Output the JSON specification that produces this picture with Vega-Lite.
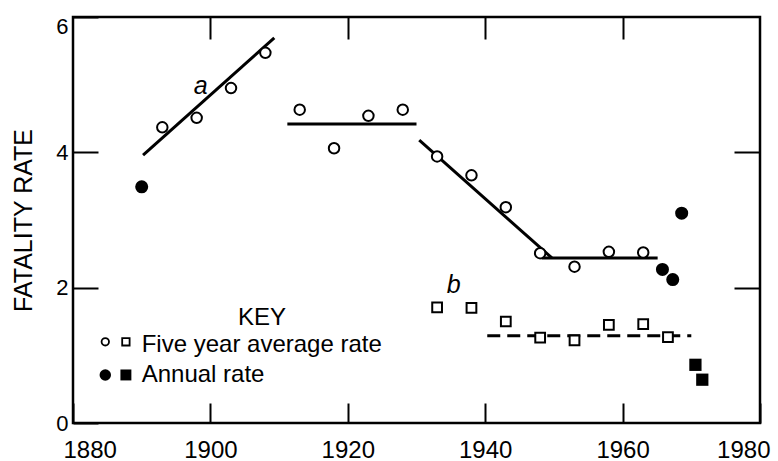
{
  "$schema": "https://vega.github.io/schema/vega-lite/v6.json",
  "width": 687,
  "height": 406,
  "autosize": {"type": "none"},
  "padding": {"left": 73, "top": 17, "right": 18, "bottom": 38},
  "background": "white",
  "config": {
    "view": {"stroke": "black", "strokeWidth": 2.5},
    "font": "Liberation Sans",
    "axis": {"domain": false, "grid": false, "tickColor": "black", "tickWidth": 2, "labelColor": "black", "titleColor": "black", "labelFont": "Liberation Sans", "titleFont": "Liberation Sans", "titleFontWeight": "normal"}
  },
  "datasets": {
    "points": [
      {"year": 1890, "rate": 3.49, "set": "a", "type": "Annual rate"},
      {"year": 1893, "rate": 4.37, "set": "a", "type": "Five year average rate"},
      {"year": 1898, "rate": 4.51, "set": "a", "type": "Five year average rate"},
      {"year": 1903, "rate": 4.95, "set": "a", "type": "Five year average rate"},
      {"year": 1908, "rate": 5.47, "set": "a", "type": "Five year average rate"},
      {"year": 1913, "rate": 4.63, "set": "a", "type": "Five year average rate"},
      {"year": 1918, "rate": 4.06, "set": "a", "type": "Five year average rate"},
      {"year": 1923, "rate": 4.54, "set": "a", "type": "Five year average rate"},
      {"year": 1928, "rate": 4.63, "set": "a", "type": "Five year average rate"},
      {"year": 1933, "rate": 3.94, "set": "a", "type": "Five year average rate"},
      {"year": 1938, "rate": 3.66, "set": "a", "type": "Five year average rate"},
      {"year": 1943, "rate": 3.19, "set": "a", "type": "Five year average rate"},
      {"year": 1948, "rate": 2.51, "set": "a", "type": "Five year average rate"},
      {"year": 1953, "rate": 2.31, "set": "a", "type": "Five year average rate"},
      {"year": 1958, "rate": 2.53, "set": "a", "type": "Five year average rate"},
      {"year": 1963, "rate": 2.52, "set": "a", "type": "Five year average rate"},
      {"year": 1965.8, "rate": 2.27, "set": "a", "type": "Annual rate"},
      {"year": 1967.3, "rate": 2.12, "set": "a", "type": "Annual rate"},
      {"year": 1968.6, "rate": 3.1, "set": "a", "type": "Annual rate"},
      {"year": 1933, "rate": 1.71, "set": "b", "type": "Five year average rate"},
      {"year": 1938, "rate": 1.7, "set": "b", "type": "Five year average rate"},
      {"year": 1943, "rate": 1.5, "set": "b", "type": "Five year average rate"},
      {"year": 1948, "rate": 1.26, "set": "b", "type": "Five year average rate"},
      {"year": 1953, "rate": 1.22, "set": "b", "type": "Five year average rate"},
      {"year": 1958, "rate": 1.45, "set": "b", "type": "Five year average rate"},
      {"year": 1963, "rate": 1.46, "set": "b", "type": "Five year average rate"},
      {"year": 1966.6, "rate": 1.27, "set": "b", "type": "Five year average rate"},
      {"year": 1970.6, "rate": 0.86, "set": "b", "type": "Annual rate"},
      {"year": 1971.6, "rate": 0.64, "set": "b", "type": "Annual rate"}
    ],
    "trend": [
      {"segment": "a1", "year": 1890.2, "rate": 3.96},
      {"segment": "a1", "year": 1909.3, "rate": 5.69},
      {"segment": "a2", "year": 1911.2, "rate": 4.42},
      {"segment": "a2", "year": 1930.0, "rate": 4.42},
      {"segment": "a3", "year": 1930.4, "rate": 4.18},
      {"segment": "a3", "year": 1949.7, "rate": 2.44},
      {"segment": "a4", "year": 1948.2, "rate": 2.44},
      {"segment": "a4", "year": 1965.1, "rate": 2.44},
      {"segment": "b", "year": 1940.3, "rate": 1.29},
      {"segment": "b", "year": 1970.0, "rate": 1.29}
    ],
    "one": [{}]
  },
  "layer": [
    {
      "data": {"name": "trend"},
      "transform": [{"filter": "datum.segment != 'b'"}],
      "mark": {"type": "line", "color": "black", "strokeWidth": 3},
      "encoding": {
        "x": {"field": "year", "type": "quantitative", "scale": {"domain": [1880, 1980], "nice": false, "zero": false},
          "axis": {"orient": "bottom", "values": [1880, 1900, 1920, 1940, 1960, 1980], "format": "d", "title": null, "tickSize": -20, "labelPadding": 35, "labelFontSize": 24, "labelBaseline": "top", "labelFlush": true, "labelFlushOffset": 10}},
        "y": {"field": "rate", "type": "quantitative", "scale": {"domain": [0, 6], "nice": false, "zero": true},
          "axis": {"orient": "left", "values": [0, 2, 4, 6], "title": "FATALITY RATE", "titleFontSize": 25, "titlePadding": 19, "tickSize": -25, "labelPadding": 30, "labelFontSize": 22, "labelFlush": false,
            "labelOffset": {"condition": {"test": "datum.value == 6", "value": 9}, "value": 0}}},
        "detail": {"field": "segment"}
      }
    },
    {
      "data": {"name": "trend"},
      "transform": [{"filter": "datum.segment == 'b'"}],
      "mark": {"type": "line", "color": "black", "strokeWidth": 3, "strokeDash": [13, 7]},
      "encoding": {
        "x": {"field": "year", "type": "quantitative", "axis": {"orient": "top", "values": [1900, 1920, 1940, 1960], "labels": false, "title": null, "tickSize": -22}},
        "y": {"field": "rate", "type": "quantitative", "axis": {"orient": "right", "values": [2, 4], "labels": false, "title": null, "tickSize": -26}}
      }
    },
    {
      "data": {"name": "points"},
      "transform": [{"filter": "datum.set == 'a' && datum.type == 'Five year average rate'"}],
      "mark": {"type": "point", "shape": "circle", "filled": false, "fill": "white", "fillOpacity": 1, "stroke": "black", "strokeWidth": 2, "opacity": 1, "size": 110},
      "encoding": {
        "x": {"field": "year", "type": "quantitative", "axis": null},
        "y": {"field": "rate", "type": "quantitative", "axis": null}
      }
    },
    {
      "data": {"name": "points"},
      "transform": [{"filter": "datum.set == 'a' && datum.type == 'Annual rate'"}],
      "mark": {"type": "point", "shape": "circle", "filled": true, "color": "black", "opacity": 1, "size": 170},
      "encoding": {
        "x": {"field": "year", "type": "quantitative", "axis": null},
        "y": {"field": "rate", "type": "quantitative", "axis": null}
      }
    },
    {
      "data": {"name": "points"},
      "transform": [{"filter": "datum.set == 'b' && datum.type == 'Five year average rate'"}],
      "mark": {"type": "point", "shape": "square", "filled": false, "fill": "white", "fillOpacity": 1, "stroke": "black", "strokeWidth": 2, "opacity": 1, "size": 95},
      "encoding": {
        "x": {"field": "year", "type": "quantitative", "axis": null},
        "y": {"field": "rate", "type": "quantitative", "axis": null}
      }
    },
    {
      "data": {"name": "points"},
      "transform": [{"filter": "datum.set == 'b' && datum.type == 'Annual rate'"}],
      "mark": {"type": "point", "shape": "square", "filled": true, "color": "black", "opacity": 1, "size": 150},
      "encoding": {
        "x": {"field": "year", "type": "quantitative", "axis": null},
        "y": {"field": "rate", "type": "quantitative", "axis": null}
      }
    },
    {
      "data": {"name": "one"},
      "mark": {"type": "text", "text": "a", "fontSize": 25, "fontStyle": "italic", "align": "center", "baseline": "alphabetic", "color": "black"},
      "encoding": {"x": {"datum": 1898.6, "type": "quantitative", "axis": null}, "y": {"datum": 4.86, "type": "quantitative", "axis": null}}
    },
    {
      "data": {"name": "one"},
      "mark": {"type": "text", "text": "b", "fontSize": 25, "fontStyle": "italic", "align": "center", "baseline": "alphabetic", "color": "black"},
      "encoding": {"x": {"datum": 1935.4, "type": "quantitative", "axis": null}, "y": {"datum": 1.92, "type": "quantitative", "axis": null}}
    },
    {
      "data": {"name": "one"},
      "mark": {"type": "text", "text": "KEY", "fontSize": 24, "align": "center", "baseline": "alphabetic", "color": "black"},
      "encoding": {"x": {"datum": 1907.5, "type": "quantitative", "axis": null}, "y": {"datum": 1.45, "type": "quantitative", "axis": null}}
    },
    {
      "data": {"name": "one"},
      "mark": {"type": "text", "text": "Five year average rate", "fontSize": 24, "align": "left", "baseline": "alphabetic", "color": "black"},
      "encoding": {"x": {"datum": 1890, "type": "quantitative", "axis": null}, "y": {"datum": 1.05, "type": "quantitative", "axis": null}}
    },
    {
      "data": {"name": "one"},
      "mark": {"type": "text", "text": "Annual rate", "fontSize": 24, "align": "left", "baseline": "alphabetic", "color": "black"},
      "encoding": {"x": {"datum": 1890, "type": "quantitative", "axis": null}, "y": {"datum": 0.61, "type": "quantitative", "axis": null}}
    },
    {
      "data": {"name": "one"},
      "mark": {"type": "point", "shape": "circle", "filled": false, "fill": "white", "stroke": "black", "strokeWidth": 1.8, "opacity": 1, "size": 55},
      "encoding": {"x": {"datum": 1884.7, "type": "quantitative", "axis": null}, "y": {"datum": 1.2, "type": "quantitative", "axis": null}}
    },
    {
      "data": {"name": "one"},
      "mark": {"type": "point", "shape": "square", "filled": false, "fill": "white", "stroke": "black", "strokeWidth": 1.8, "opacity": 1, "size": 55},
      "encoding": {"x": {"datum": 1887.7, "type": "quantitative", "axis": null}, "y": {"datum": 1.2, "type": "quantitative", "axis": null}}
    },
    {
      "data": {"name": "one"},
      "mark": {"type": "point", "shape": "circle", "filled": true, "color": "black", "opacity": 1, "size": 130},
      "encoding": {"x": {"datum": 1884.7, "type": "quantitative", "axis": null}, "y": {"datum": 0.71, "type": "quantitative", "axis": null}}
    },
    {
      "data": {"name": "one"},
      "mark": {"type": "point", "shape": "square", "filled": true, "color": "black", "opacity": 1, "size": 120},
      "encoding": {"x": {"datum": 1887.7, "type": "quantitative", "axis": null}, "y": {"datum": 0.71, "type": "quantitative", "axis": null}}
    }
  ],
  "resolve": {"axis": {"x": "independent", "y": "independent"}}
}
